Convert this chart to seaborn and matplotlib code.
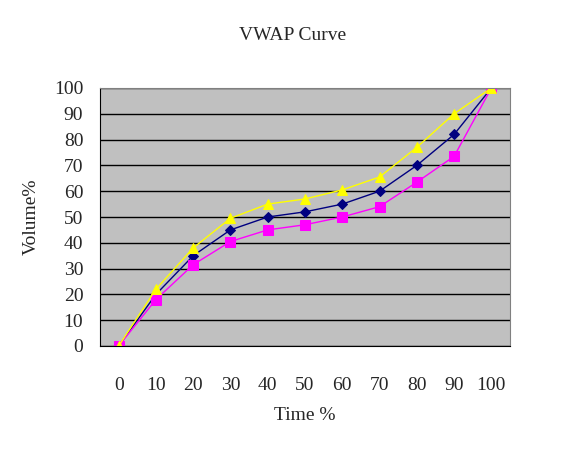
import numpy as np
import pandas as pd
import seaborn as sns
import matplotlib.pyplot as plt

# values
time_pct = [0, 10, 20, 30, 40, 50, 60, 70, 80, 90, 100]
vwap_mid = [0, 20, 35, 45, 50, 52, 55, 60, 70, 82, 100]
vwap_high = [0, 22, 38, 49.5, 55, 57, 60.5, 65.5, 77, 90, 100]
vwap_low = [0, 18, 31.5, 40.5, 45, 47, 50, 54, 63.5, 73.5, 100]

sns.set_style('white')
plt.rcParams['font.family'] = ['Liberation Serif', 'DejaVu Serif']

pos = np.arange(len(time_pct))
df = pd.DataFrame({'pos': np.tile(pos, 3),
                   'vol': vwap_mid + vwap_low + vwap_high,
                   'series': ['mid'] * 11 + ['low'] * 11 + ['high'] * 11})

fig = plt.figure(figsize=(5.87, 4.51), dpi=100)
ax = fig.add_axes([100 / 587, 1 - 346 / 451, 410 / 587, 258 / 451])
ax.set_facecolor('#c0c0c0')

styles = {'mid': ('#000080', 'D', 5.5), 'low': ('#ff00ff', 's', 6.5), 'high': ('#ffff00', '^', 7)}
for name in ['mid', 'low', 'high']:
    c, m, ms = styles[name]
    sns.lineplot(data=df[df.series == name], x='pos', y='vol', ax=ax, color=c,
                 marker=m, markersize=ms, markeredgecolor=c, linewidth=1, legend=False)

ax.set_xlim(-0.5, len(time_pct) - 0.5)
ax.set_ylim(0, 100)
ax.set_yticks(range(0, 101, 10))
ax.set_yticklabels([str(v) for v in range(0, 101, 10)], fontsize=14)
ax.yaxis.grid(True, color='black', linewidth=1)
ax.set_axisbelow(True)

ax.set_xticks(pos)
ax.set_xticklabels([str(t) for t in time_pct], fontsize=14)
ax.tick_params(axis='x', length=0, pad=22)
ax.set_xticks(np.arange(0.5, len(time_pct) - 0.5, 1), minor=True)
ax.tick_params(axis='x', which='minor', direction='in', length=5, color='black')
ax.tick_params(axis='y', length=0, pad=12)

for s in ['top', 'right']:
    ax.spines[s].set_color('#808080')
for s in ['left', 'bottom']:
    ax.spines[s].set_color('black')

ax.set_xlabel('Time %', fontsize=14, labelpad=10)
ax.set_ylabel('Volume%', fontsize=14, labelpad=10)
fig.text(293 / 587, 1 - 35 / 451, 'VWAP Curve', ha='center', va='center', fontsize=14)

fig.savefig('out.png', dpi=100)
